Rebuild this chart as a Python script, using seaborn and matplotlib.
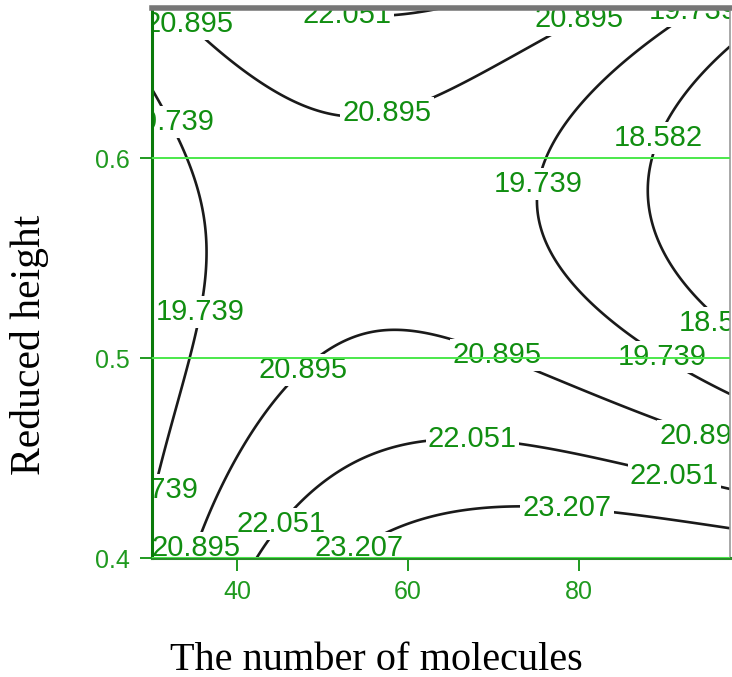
import numpy as np
import matplotlib
matplotlib.use("Agg")
import matplotlib.pyplot as plt
import seaborn as sns

sns.set_theme(style="white")
plt.rcParams['font.family'] = ['Liberation Sans', 'DejaVu Sans']

# contour levels printed on the chart
levels = [18.582, 19.739, 20.895, 22.051, 23.207]

# points: (number of molecules, reduced height)
c18582_x = [97.7, 93.9, 90.4, 88.7, 88.2, 88.4, 90.0, 95.1]
c18582_y = [0.6575, 0.6425, 0.6175, 0.6025, 0.579, 0.5625, 0.5425, 0.5255]

c19739_left_x = [30.0, 31.5, 32.9, 34.8, 35.6, 36.0, 35.9, 35.0, 34.5, 33.6, 32.5, 30.9, 30.0]
c19739_left_y = [0.6375, 0.6265, 0.6115, 0.579, 0.5625, 0.5455, 0.5305, 0.515, 0.4995, 0.479, 0.464, 0.4405, 0.431]

c19739_right_x = [91.1, 86.1, 81.4, 78.2, 76.7, 75.9, 75.2, 75.9, 78.2, 82.2, 86.7, 91.9, 97.7]
c19739_right_y = [0.665, 0.654, 0.634, 0.6205, 0.6075, 0.5975, 0.579, 0.5625, 0.5455, 0.5255, 0.5105, 0.4955, 0.4825]

c20895_top_x = [31.5, 33.5, 35.6, 40.3, 45.4, 50.1, 55.5, 61.4, 62.6, 70.5, 76.7, 80.2, 84.0]
c20895_top_y = [0.675, 0.6705, 0.664, 0.6455, 0.629, 0.62, 0.619, 0.6275, 0.629, 0.6455, 0.66, 0.6675, 0.675]

c20895_low_x = [34.8, 35.6, 37.6, 39.1, 41.5, 44.7, 45.8, 49.4, 52.1, 57.6, 63.8, 64.7, 72.8, 83.7, 89.2, 94.9]
c20895_low_y = [0.402, 0.4105, 0.429, 0.4455, 0.4625, 0.479, 0.4855, 0.5005, 0.509, 0.515, 0.5105, 0.508, 0.4965, 0.4805, 0.4705, 0.464]

c22051_top_x = [52.9, 57.5, 63.8]
c22051_top_y = [0.6755, 0.673, 0.675]

c22051_low_x = [42.1, 43.8, 46.5, 52.1, 61.8, 67.5, 73.4, 86.1, 95.8]
c22051_low_y = [0.4, 0.409, 0.424, 0.4425, 0.4575, 0.459, 0.4565, 0.4455, 0.4355]

c23207_x = [50.5, 54.4, 56.7, 63.8, 73.2, 78.6, 84.5, 97.7]
c23207_y = [0.4, 0.404, 0.4105, 0.4205, 0.425, 0.4245, 0.4225, 0.414]

traces = [
    (levels[0], c18582_x, c18582_y),
    (levels[1], c19739_left_x, c19739_left_y),
    (levels[1], c19739_right_x, c19739_right_y),
    (levels[2], c20895_top_x, c20895_top_y),
    (levels[2], c20895_low_x, c20895_low_y),
    (levels[3], c22051_top_x, c22051_top_y),
    (levels[3], c22051_low_x, c22051_low_y),
    (levels[4], c23207_x, c23207_y),
]

# where the value labels sit on the lines
label_pos = [(34.5, 0.668), (52.9, 0.674), (57.7, 0.619), (80.2, 0.668), (93.7, 0.6715),
             (32.7, 0.619), (89.8, 0.609), (76.1, 0.5865), (36.0, 0.5225), (97.2, 0.519),
             (70.5, 0.503), (90.2, 0.504), (47.9, 0.493), (94.9, 0.464), (67.5, 0.459),
             (91.3, 0.443), (31.5, 0.4325), (78.6, 0.424), (45.0, 0.4175), (35.0, 0.405),
             (54.4, 0.404)]

x_min, x_max = 30, 97.7
y_min, y_max = 0.4, 0.675


# smooth response surface through the traced points (cubic in both factors)
def design(x, y):
    u = (np.asarray(x) - 60.0) / 30.0
    v = (np.asarray(y) - 0.54) / 0.14
    return np.column_stack([np.ones_like(u), u, v, u * u, u * v, v * v,
                            u ** 3, u * u * v, u * v * v, v ** 3])


px = np.concatenate([t[1] for t in traces])
py = np.concatenate([t[2] for t in traces])
pz = np.concatenate([[t[0]] * len(t[1]) for t in traces])
coef, *_ = np.linalg.lstsq(design(px, py), pz, rcond=None)

gx, gy = np.meshgrid(np.linspace(x_min, x_max, 300), np.linspace(y_min, y_max, 300))
gz = (design(gx.ravel(), gy.ravel()) @ coef).reshape(gx.shape)

fig = plt.figure(figsize=(7.32, 6.77), dpi=100)
ax = fig.add_axes([152 / 732, 1 - 558 / 677, 578 / 732, 550 / 677])

label_green = "#118e11"
tick_green = "#1f9a1f"

ax.set_xlim(x_min, x_max)
ax.set_ylim(y_min, y_max)
ax.set_xticks([40, 60, 80])
ax.set_yticks([0.4, 0.5, 0.6])
ax.set_yticklabels(["0.4", "0.5", "0.6"])

# grid and spines drawn above the label boxes, like the original
ax.yaxis.grid(True, color="#4be84b", linewidth=1.4)
ax.xaxis.grid(False)
ax.set_axisbelow(False)

cs = ax.contour(gx, gy, gz, levels=levels, colors="#1a1a1a", linewidths=1.9)
cs.set_zorder(1.5)
texts = ax.clabel(cs, levels, inline=False, fmt="%.3f", fontsize=21,
                  colors=label_green, manual=label_pos)
for t in texts:
    t.set_rotation(0)
    t.set_zorder(2)
    t.set_bbox(dict(facecolor="white", edgecolor="none", pad=1.5))
    t.set_clip_on(True)

ax.tick_params(axis="both", which="both", colors=tick_green, labelcolor=tick_green,
               labelsize=18, direction="out", width=1.4)
ax.tick_params(axis="x", length=9, pad=7)
ax.tick_params(axis="y", length=9, pad=7)
ax.tick_params(bottom=True, left=True)

ax.spines["left"].set_color("#0a7a0a")
ax.spines["left"].set_linewidth(2.2)
ax.spines["bottom"].set_color("#2a8c2a")
ax.spines["bottom"].set_linewidth(2.2)
ax.spines["top"].set_color("#777777")
ax.spines["top"].set_linewidth(4)
ax.spines["right"].set_color("#999999")
ax.spines["right"].set_linewidth(1.2)

ax.set_xlabel("The number of molecules", fontsize=29, family="Liberation Serif",
              color="black")
ax.set_ylabel("Reduced height", fontsize=30, family="Liberation Serif", color="black")
ax.xaxis.set_label_coords(0.389, -0.152)
ax.yaxis.set_label_coords(-0.178, 0.387)

plt.savefig("out.png", dpi=100)
plt.close()
